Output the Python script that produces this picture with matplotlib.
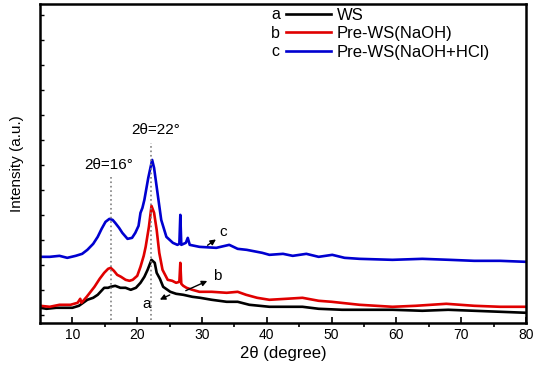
import matplotlib.pyplot as plt

# XRD patterns, values (arbitrary units)
theta_a = [5, 6, 7.5, 9, 10, 11, 12.3, 13.2, 13.9, 14.9, 15.5, 15.9, 16.6, 17.4, 18.2, 19,
           19.8, 20.5, 21.1, 21.6, 22.2, 22.7, 23, 23.5, 24, 25.1, 26, 27.1, 28.5, 29.7,
           31.5, 33.8, 35.5, 37.3, 40.4, 43, 45.5, 48, 51.6, 55, 59.4, 64, 68, 72, 76, 80]
int_a = [15, 14, 15, 15, 15, 17, 23, 25, 28, 35, 35, 36, 37, 35, 35, 33,
         35, 40, 46, 53, 63, 60, 50, 44, 36, 31, 29, 28, 26, 25,
         23, 21, 21, 18, 16, 16, 16, 14, 13, 13, 13, 12, 13, 12, 11, 10]

theta_b = [5, 6.5, 8, 9.7, 10.8, 11.2, 11.4, 12.2, 13.4, 14.2, 14.9, 15.5, 15.9, 16.4, 16.9,
           17.5, 18.2, 18.8, 19.3, 20, 20.5, 21, 21.3, 21.8, 22.2, 22.6, 23, 23.4, 23.9,
           24.7, 25.4, 26, 26.5, 26.65, 26.8, 27.1, 27.6, 28.5, 29.6, 31.5, 33.8, 35.5,
           36.8, 38.5, 40.4, 43, 45.5, 48, 50, 54.3, 59.4, 63, 67.7, 72, 76, 80]
int_b = [17, 16, 18, 18, 20, 24, 20, 26, 36, 44, 50, 54, 55, 52, 48,
         46, 43, 42, 43, 47, 56, 67, 76, 96, 117, 110, 93, 70, 53,
         43, 42, 40, 41, 60, 39, 37, 35, 33, 31, 31, 30, 31,
         28, 25, 23, 24, 25, 22, 21, 18, 16, 17, 19, 17, 16, 16]

theta_c = [5, 6.5, 8, 9.2, 10.5, 11.5, 12.3, 13.2, 13.9, 14.5, 15.1, 15.7, 16.2, 16.6, 17.2,
           17.7, 18.5, 19.2, 19.7, 20.2, 20.5, 20.8, 21.1, 21.7, 22.3, 22.6, 23, 23.7, 24.5,
           25.5, 26.2, 26.5, 26.65, 26.8, 27.5, 27.8, 28.1, 29.6, 32.2, 34.2, 35.5, 36.9,
           39.3, 40.4, 42.5, 44, 46.1, 48, 50.1, 52, 54.3, 59.4, 64, 68.2, 72, 76, 80]
int_c = [66, 66, 67, 65, 67, 69, 73, 79, 86, 94, 101, 104, 103, 100, 95,
         90, 84, 85, 90, 97, 110, 115, 123, 145, 163, 155, 136, 103, 86,
         80, 78, 79, 108, 78, 80, 85, 78, 76, 75, 78, 74, 73,
         70, 68, 69, 67, 69, 66, 68, 65, 64, 63, 64, 63, 62, 62, 61]

peak_pos = [16, 22.2]
peak_top = [148, 180]
peak_text = ['2θ=16°', '2θ=22°']
peak_text_xy = [(15.6, 158), (22.8, 193)]

names = ['WS', 'Pre-WS(NaOH)', 'Pre-WS(NaOH+HCl)']
letters = ['a', 'b', 'c']
colors = ['black', '#e00000', '#0000d0']

plt.rcParams['font.family'] = ['Liberation Sans', 'DejaVu Sans']

fig = plt.figure(figsize=(5.34, 3.71), dpi=100)
ax = fig.add_axes([0.075, 0.13, 0.91, 0.859])

lines = []
for th, y, c, n in zip([theta_a, theta_b, theta_c], [int_a, int_b, int_c], colors, names):
    ln, = ax.plot(th, y, color=c, lw=1.9, label=n)
    lines.append(ln)

# dotted guide lines at the two cellulose peaks
for p, top in zip(peak_pos, peak_top):
    ax.plot([p, p], [3, top], color='gray', ls=':', lw=1.2)
for t, (x, y) in zip(peak_text, peak_text_xy):
    ax.text(x, y, t, ha='center', va='center', fontsize=11)

# curve labels with arrows
arrow = dict(arrowstyle='-|>', color='black', lw=1, mutation_scale=8)
ax.annotate('', xy=(32.5, 85), xytext=(30.5, 76), arrowprops=arrow)
ax.text(33.3, 91, 'c', fontsize=11, ha='center', va='center')
ax.annotate('', xy=(31.2, 43), xytext=(27.1, 31), arrowprops=arrow)
ax.text(32.3, 47, 'b', fontsize=11, ha='center', va='center')
ax.annotate('', xy=(23.1, 22), xytext=(25.4, 29), arrowprops=arrow)
ax.text(21.5, 19, 'a', fontsize=11, ha='center', va='center')

ax.set_xlim(5, 80)
ax.set_ylim(0, 319)
ax.set_xticks(range(10, 81, 10))
ax.set_xticks(range(15, 80, 10), minor=True)
ax.set_yticks(range(8, 320, 25))
ax.set_yticklabels([])
ax.tick_params(direction='in', labelsize=10)
ax.tick_params(axis='x', which='major', length=4, width=1.2)
ax.tick_params(axis='x', which='minor', length=3, width=1.2)
ax.tick_params(axis='y', length=3, width=1)
for s in ax.spines.values():
    s.set_linewidth(1.8)

ax.set_xlabel('2θ (degree)', fontsize=12, labelpad=3)
ax.set_ylabel('Intensity (a.u.)', fontsize=11, labelpad=8)

leg = ax.legend(handles=lines, loc='upper left', bbox_to_anchor=(0.475, 1.035),
                frameon=False, fontsize=12, handlelength=2.7, labelspacing=0.2,
                handletextpad=0.35)
for i, l in enumerate(letters):
    ax.text(0.485, 0.967 - i * 0.058, l, transform=ax.transAxes, fontsize=11.5,
            ha='center', va='center')

fig.savefig('out.png', dpi=100)
